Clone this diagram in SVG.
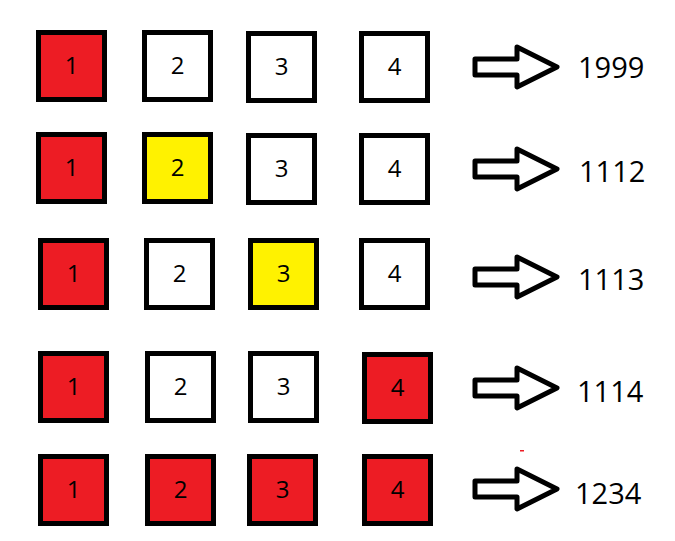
<svg xmlns="http://www.w3.org/2000/svg" width="675" height="541" viewBox="0 0 675 541">
<style>
rect.b{stroke:#000;stroke-width:5}
.r{fill:#ed1c24}.w{fill:#fff}.y{fill:#fff200}
text{font-family:"Open Sans","Liberation Sans",sans-serif;fill:#000}
.d{font-size:24px;text-anchor:middle}
.n{font-size:29px}
.a{fill:#fff;stroke:#000;stroke-width:5;stroke-linejoin:round}
</style>
<defs>
<path id="arr" class="a" d="M0,-8 H42 V-20 L82,0 L42,20 V8 H0 Z"/>
</defs>
<rect width="675" height="541" fill="#fff"/>
<g id="row1">
<g id="r1c1"><rect class="b r" x="38.5" y="32.5" width="66" height="67"/><text class="d" x="71.5" y="74">1</text></g>
<g id="r1c2"><rect class="b w" x="144.5" y="32.5" width="66" height="67"/><text class="d" x="177.5" y="74">2</text></g>
<g id="r1c3"><rect class="b w" x="248.5" y="33.5" width="66" height="67"/><text class="d" x="281.5" y="75">3</text></g>
<g id="r1c4"><rect class="b w" x="361.5" y="33.5" width="66" height="67"/><text class="d" x="394.5" y="75">4</text></g>
<text id="v1" class="n" x="578" y="78">1999</text>
</g>
<g id="row2">
<g id="r2c1"><rect class="b r" x="38.5" y="134.5" width="66" height="67"/><text class="d" x="71.5" y="176">1</text></g>
<g id="r2c2"><rect class="b y" x="144.5" y="134.5" width="66" height="67"/><text class="d" x="177.5" y="176">2</text></g>
<g id="r2c3"><rect class="b w" x="248.5" y="135.5" width="66" height="67"/><text class="d" x="281.5" y="177">3</text></g>
<g id="r2c4"><rect class="b w" x="361.5" y="135.5" width="66" height="67"/><text class="d" x="394.5" y="177">4</text></g>
<text id="v2" class="n" x="579" y="182">1112</text>
</g>
<g id="row3">
<g id="r3c1"><rect class="b r" x="40.5" y="240.5" width="66" height="67"/><text class="d" x="73.5" y="282">1</text></g>
<g id="r3c2"><rect class="b w" x="146.5" y="240.5" width="66" height="67"/><text class="d" x="179.5" y="282">2</text></g>
<g id="r3c3"><rect class="b y" x="250.5" y="240.5" width="66" height="67"/><text class="d" x="283.5" y="282">3</text></g>
<g id="r3c4"><rect class="b w" x="361.5" y="240.5" width="66" height="67"/><text class="d" x="394.5" y="282">4</text></g>
<text id="v3" class="n" x="578" y="290">1113</text>
</g>
<g id="row4">
<g id="r4c1"><rect class="b r" x="40.5" y="353.5" width="66" height="67"/><text class="d" x="73.5" y="395">1</text></g>
<g id="r4c2"><rect class="b w" x="147.5" y="353.5" width="66" height="67"/><text class="d" x="180.5" y="395">2</text></g>
<g id="r4c3"><rect class="b w" x="250.5" y="353.5" width="66" height="67"/><text class="d" x="283.5" y="395">3</text></g>
<g id="r4c4"><rect class="b r" x="364.5" y="354.5" width="66" height="67"/><text class="d" x="397.5" y="396">4</text></g>
<text id="v4" class="n" x="577" y="402">1114</text>
</g>
<g id="row5">
<g id="r5c1"><rect class="b r" x="40.5" y="456.5" width="66" height="67"/><text class="d" x="73.5" y="498">1</text></g>
<g id="r5c2"><rect class="b r" x="147.5" y="456.5" width="66" height="67"/><text class="d" x="180.5" y="498">2</text></g>
<g id="r5c3"><rect class="b r" x="249.5" y="456.5" width="66" height="67"/><text class="d" x="282.5" y="498">3</text></g>
<g id="r5c4"><rect class="b r" x="364.5" y="456.5" width="66" height="67"/><text class="d" x="397.5" y="498">4</text></g>
<text id="v5" class="n" x="575" y="504">1234</text>
</g>
<g id="connectors">
<use href="#arr" x="475" y="67"/>
<use href="#arr" x="475" y="169"/>
<use href="#arr" x="475" y="277"/>
<use href="#arr" x="475" y="388"/>
<use href="#arr" x="475" y="489"/>
</g>
<rect x="520" y="450" width="4" height="1.5" fill="#ed1c24"/>
</svg>
